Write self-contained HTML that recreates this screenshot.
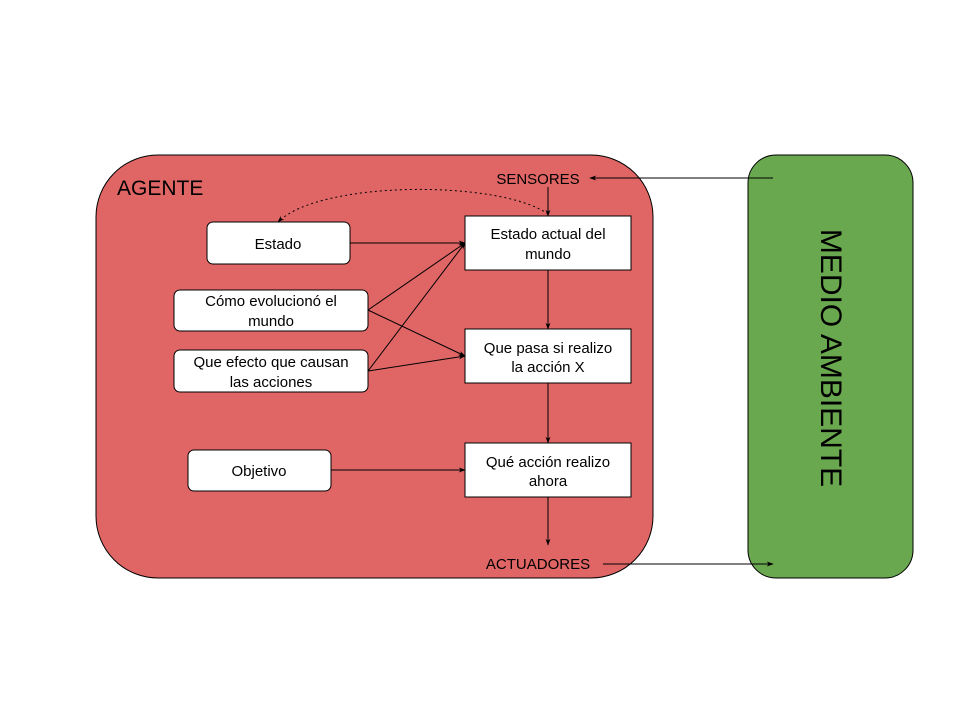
<!DOCTYPE html>
<html><head><meta charset="utf-8"><style>body{margin:0;background:#fff}svg{display:block}text{font-family:"Liberation Sans",sans-serif;fill:#000}</style></head>
<body>
<svg width="960" height="720" viewBox="0 0 960 720" xmlns="http://www.w3.org/2000/svg">
<defs><marker id="a" viewBox="0 0 10 10" refX="9" refY="5" markerWidth="7" markerHeight="7" orient="auto"><path d="M0,1.5 L10,5 L0,8.5 L3,5z" fill="#000"/></marker></defs>
<rect x="96" y="155" width="557" height="423" rx="62" fill="#e06666" stroke="#000"/>
<rect x="748" y="155" width="165" height="423" rx="28" fill="#6aa84f" stroke="#000"/>
<text x="117" y="195" font-size="21">AGENTE</text>
<text transform="translate(821,358) rotate(90)" font-size="30" text-anchor="middle">MEDIO AMBIENTE</text>
<g stroke="#000" fill="#fff">
<rect x="207" y="222" width="143" height="42" rx="6"/>
<rect x="174" y="290" width="194" height="41" rx="6"/>
<rect x="174" y="350" width="194" height="42" rx="6"/>
<rect x="188" y="450" width="143" height="41" rx="6"/>
<rect x="465" y="216" width="166" height="54"/>
<rect x="465" y="329" width="166" height="54"/>
<rect x="465" y="443" width="166" height="54"/>
</g>
<g font-size="15" text-anchor="middle">
<text x="278" y="249">Estado</text>
<text x="271" y="306">Cómo evolucionó el</text><text x="271" y="326">mundo</text>
<text x="271" y="367">Que efecto que causan</text><text x="271" y="387">las acciones</text>
<text x="259" y="476">Objetivo</text>
<text x="548" y="239">Estado actual del</text><text x="548" y="259">mundo</text>
<text x="548" y="353">Que pasa si realizo</text><text x="548" y="372">la acción X</text>
<text x="548" y="467">Qué acción realizo</text><text x="548" y="486">ahora</text>
<text x="538" y="184">SENSORES</text>
<text x="538" y="569">ACTUADORES</text>
</g>
<g stroke="#000" stroke-width="1" fill="none" marker-end="url(#a)">
<line x1="350" y1="243" x2="465" y2="243"/>
<line x1="368" y1="310" x2="465" y2="243"/>
<line x1="368" y1="310" x2="465" y2="356"/>
<line x1="368" y1="371" x2="465" y2="243"/>
<line x1="368" y1="371" x2="465" y2="356"/>
<line x1="331" y1="470" x2="465" y2="470"/>
<line x1="548" y1="270" x2="548" y2="329"/>
<line x1="548" y1="383" x2="548" y2="443"/>
<line x1="548" y1="497" x2="548" y2="545"/>
<line x1="548" y1="187" x2="548" y2="216"/>
<line x1="773" y1="178" x2="590" y2="178"/>
<line x1="603" y1="564" x2="773" y2="564"/>
<path d="M548,214 C500,180 320,180 278,222" stroke-dasharray="2,3"/>
</g>
</svg>
</body></html>
